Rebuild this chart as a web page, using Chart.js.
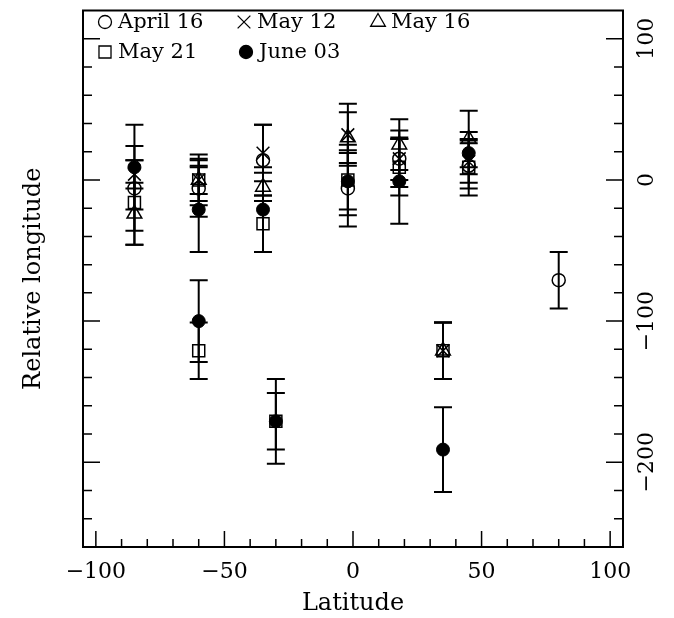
<!DOCTYPE html>
<html>
<head>
<meta charset="utf-8">
<script src="https://cdn.jsdelivr.net/npm/chart.js@4/dist/chart.umd.min.js"></script>
<style>
  html, body { margin: 0; padding: 0; background: #fff; }
  #wrap { width: 674px; height: 618px; }
</style>
</head>
<body>
<div id="wrap"><canvas id="latChart"></canvas></div>
<script>
// values: latitude, relative longitude, error half-length
var april16Lat = [-85, -60, -35, -2, 18, 45, 80];
var april16Lon = [-6, -6, 14, -6, 15, 10, -71];
var april16Err = [30, 20, 25, 27, 15, 16, 20];

var may12Lat = [-85, -60, -35, -2, 18, 45, 35];
var may12Lon = [4, 0, 19, 32, 15, 13, -121];
var may12Err = [10, 10, 20, 22, 20, 15, 20];

var may16Lat = [-85, -60, -35, -2, 18, 45, 35];
var may16Lon = [-24, 0, -5, 30, 25, 29, -121];
var may16Err = [22, 15, 10, 18, 18, 20, 20];

var may21Lat = [-85, -60, -60, -35, -30, -2, 18, 45, 35];
var may21Lon = [-16, 0, -121, -31, -171, 0, 9, 9, -121];
var may21Err = [30, 18, 20, 20, 20, 25, 20, 20, 20];

var june03Lat = [-85, -60, -60, -35, -30, -2, 18, 45, 35];
var june03Lon = [9, -21, -100, -21, -171, -1, -1, 19, -191];
var june03Err = [30, 30, 29, 30, 30, 20, 30, 15, 30];

var xTickLabels = [-100, -50, 0, 50, 100];
var yTickLabels = [100, 0, -100, -200];

var serif = '"DejaVu Serif", "Liberation Serif", serif';

function pts(lat, lon, err) {
    return lat.map(function(v, i) { return { x: v, y: lon[i], err: err[i] }; });
}

function minusLabel(v) {
    return v < 0 ? '\u2212' + Math.abs(v) : String(v);
}

var markerPlugin = {
    id: 'markerPlugin',
    beforeDatasetsDraw: function(chart) {
        // error bars
        var ctx = chart.ctx, xs = chart.scales.x, ys = chart.scales.y;
        ctx.save();
        ctx.strokeStyle = '#000';
        ctx.lineWidth = 2;
        chart.data.datasets.forEach(function(ds) {
            ds.data.forEach(function(p) {
                var px = xs.getPixelForValue(p.x);
                var top = ys.getPixelForValue(p.y + p.err);
                var bot = ys.getPixelForValue(p.y - p.err);
                ctx.beginPath();
                ctx.moveTo(px, top); ctx.lineTo(px, bot);
                ctx.moveTo(px - 9, top); ctx.lineTo(px + 9, top);
                ctx.moveTo(px - 9, bot); ctx.lineTo(px + 9, bot);
                ctx.stroke();
            });
        });
        ctx.restore();
    },
    afterDraw: function(chart) {
        var ctx = chart.ctx, a = chart.chartArea;
        var xs = chart.scales.x, ys = chart.scales.y;
        ctx.save();
        ctx.strokeStyle = '#000';
        ctx.lineWidth = 2;
        ctx.strokeRect(a.left, a.top, a.right - a.left, a.bottom - a.top);

        // x ticks (bottom only), pointing inward
        ctx.beginPath();
        for (var v = -100; v <= 100; v += 10) {
            var px = xs.getPixelForValue(v);
            var len = (v % 50 === 0) ? 16 : 8;
            ctx.moveTo(px, a.bottom); ctx.lineTo(px, a.bottom - len);
        }
        // y ticks on left and right
        for (var w = -240; w <= 100; w += 20) {
            var py = ys.getPixelForValue(w);
            var l2 = (w % 100 === 0) ? 17 : 9;
            ctx.moveTo(a.left, py); ctx.lineTo(a.left + l2, py);
            ctx.moveTo(a.right, py); ctx.lineTo(a.right - l2, py);
        }
        ctx.lineWidth = 1.5;
        ctx.stroke();

        // rotated labels on the right axis
        ctx.fillStyle = '#000';
        ctx.font = '22px ' + serif;
        ctx.textAlign = 'center';
        ctx.textBaseline = 'middle';
        yTickLabels.forEach(function(t) {
            ctx.save();
            ctx.translate(a.right + 24, ys.getPixelForValue(t));
            ctx.rotate(-Math.PI / 2);
            ctx.fillText(minusLabel(t), 0, 0);
            ctx.restore();
        });

        // legend inside the frame
        var slots = [[105, 22], [244, 22], [378, 22], [105, 52], [246, 52]];
        ctx.font = '21px ' + serif;
        ctx.textAlign = 'left';
        chart.data.datasets.forEach(function(ds, i) {
            var s = slots[i];
            ctx.fillStyle = ds.pointBackgroundColor;
            ctx.strokeStyle = '#000';
            ctx.lineWidth = 1.3;
            Chart.helpers.drawPoint(ctx, {
                pointStyle: ds.pointStyle, radius: ds.pointRadius,
                rotation: 0, borderWidth: 1.3
            }, s[0], s[1]);
            ctx.fillStyle = '#000';
            ctx.fillText(ds.label, s[0] + 13, s[1] + 1);
        });
        ctx.restore();
    }
};

new Chart(document.getElementById('latChart').getContext('2d'), {
    type: 'scatter',
    data: {
        datasets: [{
            label: 'April 16',
            data: pts(april16Lat, april16Lon, april16Err),
            pointStyle: 'circle',
            pointRadius: 6.5,
            pointBackgroundColor: 'rgba(0,0,0,0)',
            pointBorderColor: '#000',
            pointBorderWidth: 1.5
        }, {
            label: 'May 12',
            data: pts(may12Lat, may12Lon, may12Err),
            pointStyle: 'crossRot',
            pointRadius: 9,
            pointBackgroundColor: 'rgba(0,0,0,0)',
            pointBorderColor: '#000',
            pointBorderWidth: 1.5
        }, {
            label: 'May 16',
            data: pts(may16Lat, may16Lon, may16Err),
            pointStyle: 'triangle',
            pointRadius: 8.5,
            pointBackgroundColor: 'rgba(0,0,0,0)',
            pointBorderColor: '#000',
            pointBorderWidth: 1.5
        }, {
            label: 'May 21',
            data: pts(may21Lat, may21Lon, may21Err),
            pointStyle: 'rect',
            pointRadius: 8.5,
            pointBackgroundColor: 'rgba(0,0,0,0)',
            pointBorderColor: '#000',
            pointBorderWidth: 1.5
        }, {
            label: 'June 03',
            data: pts(june03Lat, june03Lon, june03Err),
            pointStyle: 'circle',
            pointRadius: 6.5,
            pointBackgroundColor: '#000',
            pointBorderColor: '#000',
            pointBorderWidth: 1
        }]
    },
    options: {
        responsive: true,
        maintainAspectRatio: false,
        animation: false,
        events: [],
        layout: { padding: { top: 8, right: 51, left: 0, bottom: 0 } },
        plugins: {
            legend: { display: false },
            tooltip: { enabled: false }
        },
        scales: {
            x: {
                type: 'linear',
                position: 'bottom',
                min: -105,
                max: 105,
                afterFit: function(scale) { scale.height = 71; },
                afterBuildTicks: function(scale) {
                    scale.ticks = xTickLabels.map(function(v) { return { value: v }; });
                },
                grid: { display: false, drawTicks: false },
                border: { display: false },
                ticks: {
                    color: '#000',
                    padding: 12,
                    maxRotation: 0,
                    font: { family: serif, size: 22 },
                    callback: function(v) { return minusLabel(v); }
                },
                title: {
                    display: true,
                    text: 'Latitude',
                    color: '#000',
                    font: { family: serif, size: 24 },
                    padding: { top: 0, bottom: 0 }
                }
            },
            y: {
                type: 'linear',
                position: 'left',
                min: -260,
                max: 120,
                afterFit: function(scale) { scale.width = 83; },
                grid: { display: false, drawTicks: false },
                border: { display: false },
                ticks: { display: false },
                title: {
                    display: true,
                    text: 'Relative longitude',
                    color: '#000',
                    font: { family: serif, size: 24 },
                    padding: { top: 19, bottom: 0 }
                }
            }
        }
    },
    plugins: [markerPlugin]
});
</script>
</body>
</html>
